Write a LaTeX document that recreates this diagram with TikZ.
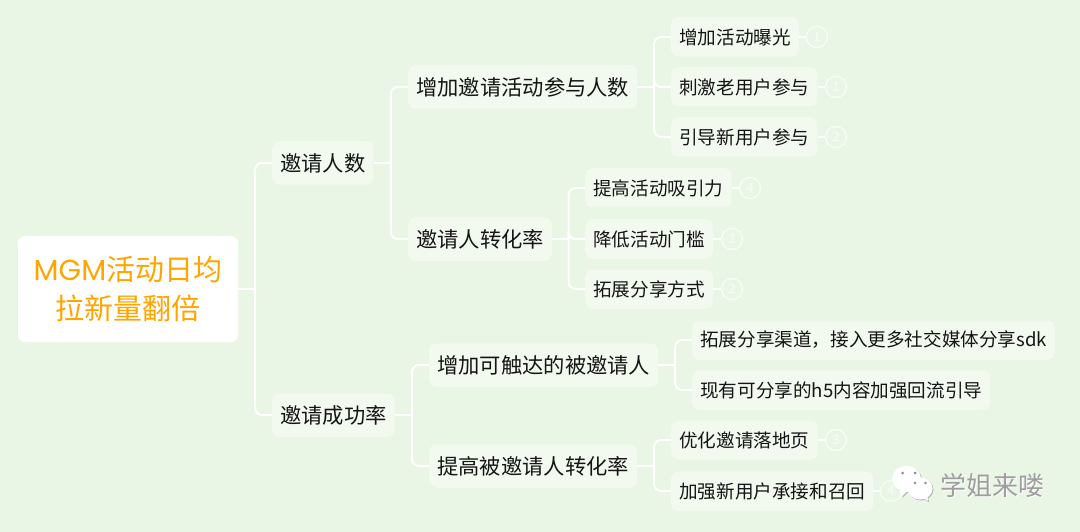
\documentclass[tikz,border=0pt]{standalone}
\usepackage{fontspec}
\setmainfont{Noto Sans CJK SC}
\newfontfamily\popfont{Poppins}
\usetikzlibrary{calc}
\definecolor{bgc}{HTML}{E9F5E5}
\definecolor{boxc}{HTML}{F2F9EE}
\definecolor{inkc}{HTML}{151515}
\definecolor{rootc}{HTML}{FFA500}
\definecolor{markc}{HTML}{F8FCF6}
\tikzset{
  x=1pt,y=-1pt,
  rootbox/.style={fill=white,rounded corners=7pt,minimum width=220pt,minimum height=106pt,align=center,text=rootc,inner sep=0pt,font=\fontsize{29}{39}\selectfont},
  topicbox/.style={anchor=west,fill=boxc,rounded corners=7pt,minimum height=43.5pt,inner xsep=8pt,inner ysep=0pt,text=inkc,font=\fontsize{21.3}{26}\selectfont},
  leafbox/.style={anchor=west,fill=boxc,rounded corners=7pt,minimum height=39.5pt,inner xsep=8pt,inner ysep=0pt,text=inkc,font=\fontsize{18.6}{22}\selectfont},
  numc/.style={circle,draw=markc,line width=1.3pt,minimum size=21pt,inner sep=0pt,text=markc,font=\fontsize{13}{15}\selectfont},
  conn/.style={draw=white,line width=2pt,rounded corners=7pt},
  stub/.style={draw=white,line width=2pt},
  brandtext/.style={text=white!62!black,font=\fontsize{26}{30}\selectfont,inner sep=0pt},
}
\newcommand{\linkto}[2]{%
  \coordinate (mid#1#2) at ($(#1.east)!.5!(#2.west)$);
  \draw[stub] (#1.east) -- (mid#1#2 |- #1.east);
  \draw[conn] (mid#1#2 |- #1.east) |- (#2.west);}
\begin{document}
\begin{tikzpicture}
\fill[bgc] (0,0) rectangle (1080,532);
\useasboundingbox (0,0) rectangle (1080,532);

\node[rootbox] (root) at (128,289) {{\popfont MGM}活动日均\\拉新量翻倍};

\node[topicbox] (a) at (272,163) {邀请人数};
\node[topicbox] (b) at (272,415) {邀请成功率};
\node[topicbox] (a1) at (408,87) {增加邀请活动参与人数};
\node[topicbox] (a2) at (408,239) {邀请人转化率};
\node[topicbox] (b1) at (429,365) {增加可触达的被邀请人};
\node[topicbox] (b2) at (429,466) {提高被邀请人转化率};

\node[leafbox] (l1) at (671,37) {增加活动曝光};
\node[leafbox] (l2) at (671,87) {刺激老用户参与};
\node[leafbox] (l3) at (671,137) {引导新用户参与};
\node[leafbox] (l4) at (585,188) {提高活动吸引力};
\node[leafbox] (l5) at (585,239) {降低活动门槛};
\node[leafbox] (l6) at (585,289) {拓展分享方式};
\node[leafbox] (l7) at (692,340) {拓展分享渠道，接入更多社交媒体分享sdk};
\node[leafbox] (l8) at (692,390) {现有可分享的h5内容加强回流引导};
\node[leafbox] (l9) at (671,440) {优化邀请落地页};
\node[leafbox] (l10) at (671,491) {加强新用户承接和召回};

\node[numc] (n1) at (817,37) {1};
\node[numc] (n2) at (836,87) {1};
\node[numc] (n3) at (836,137) {2};
\node[numc] (n4) at (750,188) {4};
\node[numc] (n5) at (732,239) {2};
\node[numc] (n6) at (732,289) {2};
\node[numc] (n9) at (836,440) {3};
\node[numc] (n10) at (891,491) {4};

\linkto{root}{a}
\linkto{root}{b}
\linkto{a}{a1}
\linkto{a}{a2}
\linkto{b}{b1}
\linkto{b}{b2}
\linkto{a1}{l1}
\linkto{a1}{l2}
\linkto{a1}{l3}
\linkto{a2}{l4}
\linkto{a2}{l5}
\linkto{a2}{l6}
\linkto{b1}{l7}
\linkto{b1}{l8}
\linkto{b2}{l9}
\linkto{b2}{l10}
\foreach \p/\q in {l1/n1,l2/n2,l3/n3,l4/n4,l5/n5,l6/n6,l9/n9,l10/n10}{
  \draw[stub] (\p.east) -- (\q.west);
}

% watermark
\fill[black!28] (900,490) -- (903,497.5) -- (909,491) -- cycle;
\fill[black!28] (907.5,480) ellipse (14.5 and 13);
\fill[white] (899,489) -- (902,496.5) -- (908,490) -- cycle;
\fill[white] (906.5,479) ellipse (14.5 and 13);
\fill[black!28] (921,497) -- (929,502.5) -- (928,494) -- cycle;
\fill[black!28] (921,489.5) ellipse (12.5 and 11);
\fill[white] (920,496) -- (928,501) -- (927,493) -- cycle;
\fill[white] (920,488.5) ellipse (12.5 and 11);
\fill[black!45] (902.5,473) circle (1.5) (915,473) circle (1.5) (915,483) circle (1.3) (925.5,483) circle (1.3);
\node[brandtext,text=white,anchor=west] (brandb) at (941,486) {学姐来喽};
\node[brandtext,anchor=west] (brand) at (940,485) {学姐来喽};
\end{tikzpicture}
\end{document}
